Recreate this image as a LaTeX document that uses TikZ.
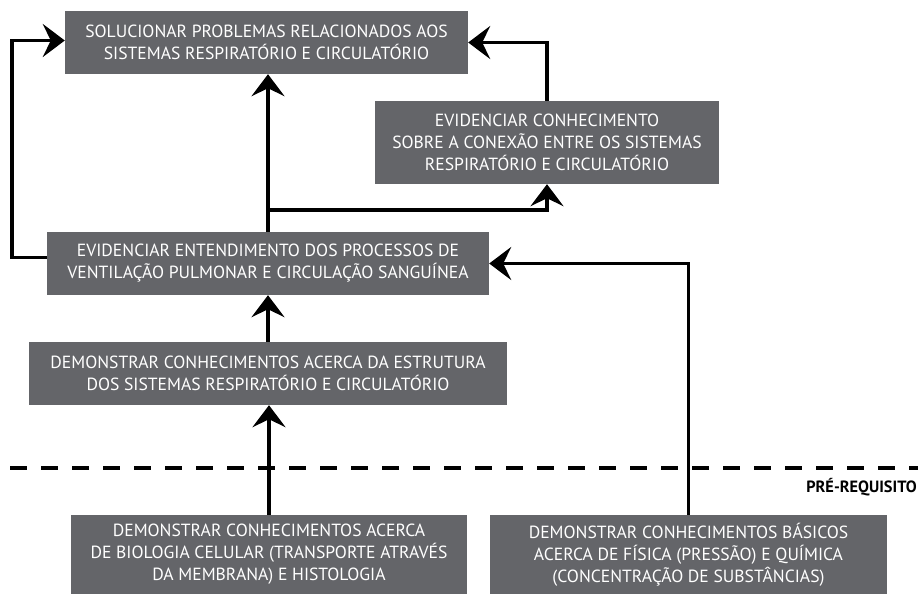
\documentclass[tikz,border=0pt]{standalone}
\usepackage{fontspec}
\setmainfont{PT Sans}
\usetikzlibrary{arrows.meta,calc}
\definecolor{boxgray}{HTML}{646569}
\tikzset{
  box/.style={fill=boxgray, text=white, align=center, inner sep=0pt,
    font=\fontsize{17.6}{22}\selectfont},
  arr/.style={line width=3.8pt, -{Stealth[length=22pt,width=33pt,inset=8pt]}},
}
\begin{document}
\begin{tikzpicture}[x=1pt,y=-1pt]
\useasboundingbox (0,0) rectangle (918,595);
\node[box, minimum width=403pt, minimum height=63pt] (A) at (266.5,42.5)
  {SOLUCIONAR PROBLEMAS RELACIONADOS AOS\\SISTEMAS RESPIRATÓRIO E CIRCULATÓRIO};
\node[box, minimum width=344pt, minimum height=83pt] (B) at (547,142.5)
  {EVIDENCIAR CONHECIMENTO\\SOBRE A CONEXÃO ENTRE OS SISTEMAS\\RESPIRATÓRIO E CIRCULATÓRIO};
\node[box, minimum width=442pt, minimum height=63pt] (C) at (268,263.5)
  {EVIDENCIAR ENTENDIMENTO DOS PROCESSOS DE\\VENTILAÇÃO PULMONAR E CIRCULAÇÃO SANGUÍNEA};
\node[box, minimum width=478pt, minimum height=63pt] (D) at (268,373.5)
  {DEMONSTRAR CONHECIMENTOS ACERCA DA ESTRUTURA\\DOS SISTEMAS RESPIRATÓRIO E CIRCULATÓRIO};
\node[box, minimum width=396pt, minimum height=79pt] (E) at (269,554.5)
  {DEMONSTRAR CONHECIMENTOS ACERCA\\DE BIOLOGIA CELULAR (TRANSPORTE ATRAVÉS\\DA MEMBRANA) E HISTOLOGIA};
\node[box, minimum width=397pt, minimum height=79pt] (F) at (688.5,554.5)
  {DEMONSTRAR CONHECIMENTOS BÁSICOS\\ACERCA DE FÍSICA (PRESSÃO) E QUÍMICA\\(CONCENTRAÇÃO DE SUBSTÂNCIAS)};
\node[anchor=east, inner sep=0pt, font=\fontsize{16.3}{18}\selectfont\bfseries] (P) at (917,487) {PRÉ-REQUISITO};
\draw[line width=4pt, dash pattern=on 17pt off 14pt] (10,468) -- (918,468);
% connectors
\draw[arr] (E.north) -- (E.north |- D.south);
\draw[arr] (D.north) -- (D.north |- C.south);
\draw[arr] (C.north) -- (C.north |- A.south);
\coordinate (j) at ($(C.north)+(0,-22)$);
\draw[arr] ($(j)+(-1.9,0)$) -| (B.south);
\draw[arr] (B.north) |- (A.east);
\draw[arr] ($(C.west)+(0,-6)$) -- ++(-35,0) |- ($(A.west)+(0,-2)$);
\draw[arr] (F.north) |- (C.east);
\end{tikzpicture}
\end{document}
